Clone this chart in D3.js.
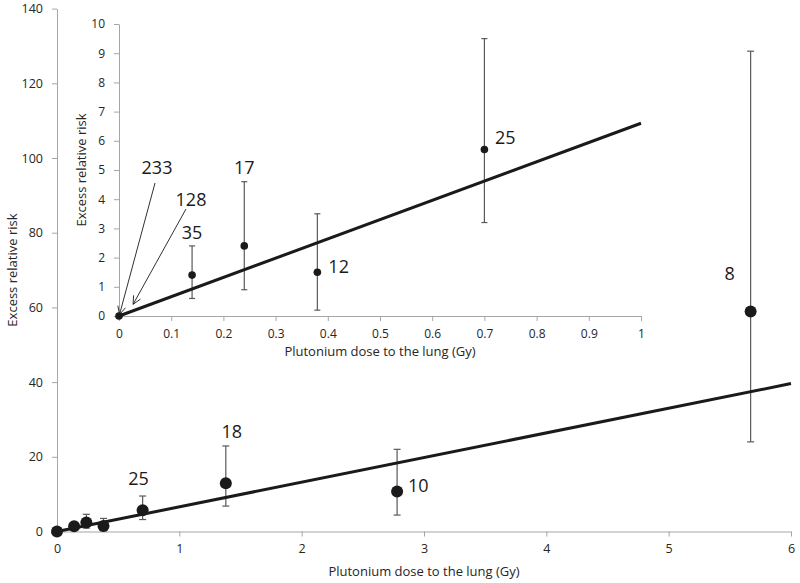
<!DOCTYPE html>
<html><head><meta charset="utf-8">
<script src="https://cdn.jsdelivr.net/npm/d3@7"></script>
<style>
html,body{margin:0;padding:0;background:#fff;}
svg{display:block;font-family:"Open Sans","Noto Sans",sans-serif;}
</style></head>
<body>
<svg id="chart" width="800" height="583"></svg>
<script>
// ---- data ----
const mainDose  = [0, 0.14, 0.24, 0.38, 0.70, 1.38, 2.78, 5.67];
const mainERR   = [0, 1.4, 2.4, 1.5, 5.7, 12.9, 10.7, 58.9];
const mainLow   = [0, 0.6, 0.9, 0.2, 3.2, 6.8, 4.4, 24.0];
const mainHigh  = [0, 2.4, 4.6, 3.5, 9.5, 22.9, 22.0, 128.6];
const mainLabels = ["", "", "", "", "25", "18", "10", "8"];

const insetDose = [0, 0.14, 0.24, 0.38, 0.70];
const insetERR  = [0, 1.4, 2.4, 1.5, 5.7];
const insetLow  = [0, 0.6, 0.9, 0.2, 3.2];
const insetHigh = [0, 2.4, 4.6, 3.5, 9.5];
const insetLabels = ["", "35", "17", "12", "25"];

const fitSlope = 6.6;           // ERR per Gy
const mainXTicks = [0,1,2,3,4,5,6];
const mainYTicks = [0,20,40,60,80,100,120,140];
const insetXTicks = [0,0.1,0.2,0.3,0.4,0.5,0.6,0.7,0.8,0.9,1];
const insetYTicks = [0,1,2,3,4,5,6,7,8,9,10];
const arrowLabels = ["233","128"];
const arrowTargets = [[0.001, 0.05],[0.027, 0.4]];
const xTitle = "Plutonium dose to the lung (Gy)";
const yTitle = "Excess relative risk";

const svg = d3.select("#chart");
const axisColor = "#a6a6a6";
const barColor = "#595959";

function drawAxes(g, x, y, xt, yt, fs, xfmt) {
  const xa = g.append("g").attr("transform", `translate(0,${y.range()[0]})`)
    .call(d3.axisBottom(x).tickValues(xt).tickSize(5).tickSizeOuter(0).tickPadding(8).tickFormat(xfmt));
  const ya = g.append("g").attr("transform", `translate(${x.range()[0]},0)`)
    .call(d3.axisLeft(y).tickValues(yt).tickSize(5).tickSizeOuter(0).tickPadding(9).tickFormat(d3.format("d")));
  [xa, ya].forEach(a => {
    a.select(".domain").attr("stroke", axisColor).attr("stroke-width", 1);
    a.selectAll(".tick line").attr("stroke", axisColor);
    a.selectAll(".tick text").attr("fill", "#262626").style("font-size", fs + "px")
      .style("font-family", "'Open Sans','Noto Sans',sans-serif");
  });
}

// ---- main chart ----
const mx = d3.scaleLinear().domain([0, 6]).range([57, 791]);
const my = d3.scaleLinear().domain([0, 140]).range([531.5, 8.6]);
const gm = svg.append("g");
drawAxes(gm, mx, my, mainXTicks, mainYTicks, 12.5, d3.format("d"));

gm.append("text").attr("x", (57 + 791) / 2).attr("y", 576).attr("text-anchor", "middle")
  .attr("fill", "#262626").style("font-size", "13px").text(xTitle);
gm.append("text").attr("transform", `translate(17,${(531.5 + 8.6) / 2}) rotate(-90)`)
  .attr("text-anchor", "middle").attr("fill", "#262626").style("font-size", "13px").text(yTitle);

const mainIdx = d3.range(mainDose.length);
// error bars
const meb = gm.append("g").attr("stroke", barColor).attr("stroke-width", 1.2);
mainIdx.filter(i => mainHigh[i] > mainLow[i]).forEach(i => {
  const cx = mx(mainDose[i]);
  meb.append("line").attr("x1", cx).attr("x2", cx).attr("y1", my(mainLow[i])).attr("y2", my(mainHigh[i]));
  meb.append("line").attr("x1", cx - 3.5).attr("x2", cx + 3.5).attr("y1", my(mainLow[i])).attr("y2", my(mainLow[i]));
  meb.append("line").attr("x1", cx - 3.5).attr("x2", cx + 3.5).attr("y1", my(mainHigh[i])).attr("y2", my(mainHigh[i]));
});
// fit line
gm.append("line").attr("x1", mx(0)).attr("y1", my(0)).attr("x2", mx(6)).attr("y2", my(6 * fitSlope))
  .attr("stroke", "#1a1a1a").attr("stroke-width", 3);
// points
gm.selectAll("circle.m").data(mainIdx).join("circle")
  .attr("cx", i => mx(mainDose[i])).attr("cy", i => my(mainERR[i])).attr("r", 6).attr("fill", "#1a1a1a");
// labels
const mainLabOff = {4: [-4, -25, "middle"], 5: [6, -45, "middle"], 6: [11, 0, "start"], 7: [-21, -32, "middle"]};
mainIdx.filter(i => mainLabels[i]).forEach(i => {
  const o = mainLabOff[i];
  gm.append("text").attr("x", mx(mainDose[i]) + o[0]).attr("y", my(mainERR[i]) + o[1])
    .attr("text-anchor", o[2]).attr("fill", "#1a1a1a").style("font-size", "18px").text(mainLabels[i]);
});

// ---- inset ----
const ix = d3.scaleLinear().domain([0, 1]).range([119, 641]);
const iy = d3.scaleLinear().domain([0, 10]).range([316, 24]);
const gi = svg.append("g");
drawAxes(gi, ix, iy, insetXTicks, insetYTicks, 12, d => d === 0 || d === 1 ? d3.format("d")(d) : d3.format(".1f")(d));

gi.append("text").attr("x", (119 + 641) / 2).attr("y", 356).attr("text-anchor", "middle")
  .attr("fill", "#262626").style("font-size", "13px").text(xTitle);
gi.append("text").attr("transform", `translate(86,${(316 + 24) / 2}) rotate(-90)`)
  .attr("text-anchor", "middle").attr("fill", "#262626").style("font-size", "13px").text(yTitle);

const insetIdx = d3.range(insetDose.length);
const ieb = gi.append("g").attr("stroke", barColor).attr("stroke-width", 1.2);
insetIdx.filter(i => insetHigh[i] > insetLow[i]).forEach(i => {
  const cx = ix(insetDose[i]);
  ieb.append("line").attr("x1", cx).attr("x2", cx).attr("y1", iy(insetLow[i])).attr("y2", iy(insetHigh[i]));
  ieb.append("line").attr("x1", cx - 3).attr("x2", cx + 3).attr("y1", iy(insetLow[i])).attr("y2", iy(insetLow[i]));
  ieb.append("line").attr("x1", cx - 3).attr("x2", cx + 3).attr("y1", iy(insetHigh[i])).attr("y2", iy(insetHigh[i]));
});
gi.append("line").attr("x1", ix(0)).attr("y1", iy(0)).attr("x2", ix(1)).attr("y2", iy(fitSlope))
  .attr("stroke", "#1a1a1a").attr("stroke-width", 3);
gi.selectAll("circle.i").data(insetIdx).join("circle")
  .attr("cx", i => ix(insetDose[i])).attr("cy", i => iy(insetERR[i])).attr("r", 3.8).attr("fill", "#1a1a1a");
const insetLabOff = {1: [0, -36, "middle"], 2: [0, -72, "middle"], 3: [11, 1, "start"], 4: [10.5, -6, "start"]};
insetIdx.filter(i => insetLabels[i]).forEach(i => {
  const o = insetLabOff[i];
  gi.append("text").attr("x", ix(insetDose[i]) + o[0]).attr("y", iy(insetERR[i]) + o[1])
    .attr("text-anchor", o[2]).attr("fill", "#1a1a1a").style("font-size", "18px").text(insetLabels[i]);
});
// arrows with labels
const arrowStarts = [[155, 183], [186, 209]];
const arrowLabelPos = [[157, 174], [191, 206]];
arrowLabels.forEach((lab, k) => {
  const [sx, sy] = arrowStarts[k];
  const ex = ix(arrowTargets[k][0]), ey = iy(arrowTargets[k][1]);
  gi.append("line").attr("x1", sx).attr("y1", sy).attr("x2", ex).attr("y2", ey)
    .attr("stroke", "#1a1a1a").attr("stroke-width", 0.9);
  const ang = Math.atan2(ey - sy, ex - sx);
  const L = 9, spread = 0.45;
  [-spread, spread].forEach(s => {
    gi.append("line").attr("x1", ex).attr("y1", ey)
      .attr("x2", ex - L * Math.cos(ang + s)).attr("y2", ey - L * Math.sin(ang + s))
      .attr("stroke", "#1a1a1a").attr("stroke-width", 0.9);
  });
  gi.append("text").attr("x", arrowLabelPos[k][0]).attr("y", arrowLabelPos[k][1])
    .attr("text-anchor", "middle").attr("fill", "#1a1a1a").style("font-size", "18px").text(lab);
});
</script>
</body></html>
